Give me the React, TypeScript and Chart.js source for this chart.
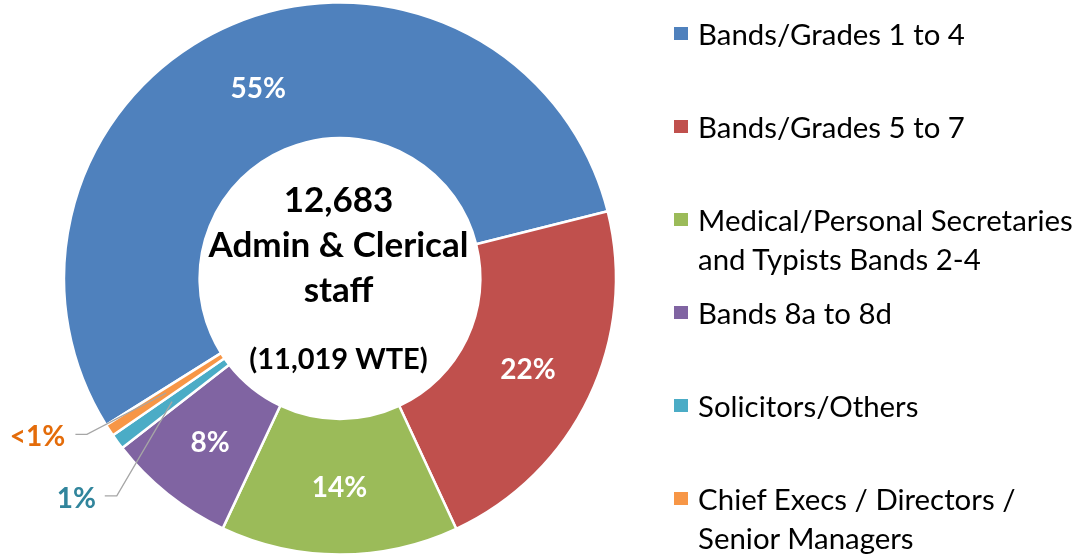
import React, { useEffect, useRef } from "react";
import { Chart, registerables } from "chart.js";

Chart.register(...registerables);

// ---- data ----
const categories: string[][] = [
  ["Bands/Grades 1 to 4"],
  ["Bands/Grades 5 to 7"],
  ["Medical/Personal Secretaries", "and Typists Bands 2-4"],
  ["Bands 8a to 8d"],
  ["Solicitors/Others"],
  ["Chief Execs / Directors /", "Senior Managers"],
];
const shares = [55.0, 22.0, 13.9, 7.5, 0.9, 0.7];
const shareLabels = ["55%", "22%", "14%", "8%", "1%", "<1%"];
const sliceColors = ["#4F81BD", "#C0504D", "#9BBB59", "#8064A2", "#4BACC6", "#F79646"];
const labelColors = ["#FFFFFF", "#FFFFFF", "#FFFFFF", "#FFFFFF", "#31859C", "#E46C0A"];
const centerLines = ["12,683", "Admin & Clerical", "staff", "(11,019 WTE)"];

// ---- style ----
const FONT = "Lato, 'Open Sans', sans-serif";
const centerStyle = [
  { dy: -67, size: 35 },
  { dy: -22, size: 35 },
  { dy: 23, size: 35 },
  { dy: 90, size: 29 },
];
const callouts: Record<number, { label: [number, number]; elbow: [number, number]; end: [number, number] }> = {
  4: { label: [-95.8, 96], elbow: [-55.3, 94.3], end: [-67.3, 94.3] },
  5: { label: [-128.7, 42.7], elbow: [-79.2, 41.4], end: [-90.7, 41.4] },
};

const labelPlugin = {
  id: "sliceLabels",
  afterDraw(chart: any) {
    const ctx = chart.ctx;
    const meta = chart.getDatasetMeta(0);
    const arcs = meta.data;
    if (!arcs.length) return;
    const cx = arcs[0].x;
    const cy = arcs[0].y;
    ctx.save();
    // center text
    ctx.fillStyle = "#000000";
    ctx.textAlign = "center";
    ctx.textBaseline = "alphabetic";
    centerLines.forEach((t, i) => {
      const st = centerStyle[i];
      ctx.font = `bold ${st.size}px ${FONT}`;
      ctx.fillText(t, cx - 1.5, cy + st.dy);
    });
    // slice labels
    arcs.forEach((arc: any, i: number) => {
      const p = arc.tooltipPosition();
      let lx = p.x;
      let ly = p.y;
      const co = callouts[i];
      if (co) {
        ctx.strokeStyle = "#A6A6A6";
        ctx.lineWidth = 1.3;
        ctx.beginPath();
        ctx.moveTo(p.x + co.end[0], p.y + co.end[1]);
        ctx.lineTo(p.x + co.elbow[0], p.y + co.elbow[1]);
        ctx.lineTo(p.x, p.y);
        ctx.stroke();
        lx = p.x + co.label[0];
        ly = p.y + co.label[1];
      }
      ctx.font = `bold 28px ${FONT}`;
      ctx.fillStyle = labelColors[i];
      const m = ctx.measureText(shareLabels[i]);
      const yb = ly + (m.actualBoundingBoxAscent - m.actualBoundingBoxDescent) / 2;
      ctx.textAlign = "center";
      ctx.fillText(shareLabels[i], lx, yb);
    });
    ctx.restore();
  },
};

export default function App() {
  const canvasRef = useRef<HTMLCanvasElement | null>(null);

  useEffect(() => {
    if (!canvasRef.current) return;
    const chart = new Chart(canvasRef.current, {
      type: "doughnut",
      data: {
        labels: categories.map((c) => c.join(" ")),
        datasets: [
          {
            data: shares,
            backgroundColor: sliceColors,
            borderColor: "#FFFFFF",
            borderWidth: 2.5,
            hoverOffset: 0,
          },
        ],
      },
      options: {
        responsive: false,
        animation: false,
        rotation: -122.1,
        radius: 276,
        cutout: 140,
        layout: { padding: { left: 60, right: 463, top: 2, bottom: -7 } },
        plugins: {
          legend: { display: false },
          tooltip: { enabled: false },
        },
      },
      plugins: [labelPlugin],
    });
    return () => chart.destroy();
  }, []);

  return (
    <div style={{ position: "absolute", left: 0, top: 0, width: 1083, height: 555, overflow: "hidden", background: "#fff" }}>
      <canvas ref={canvasRef} width={1083} height={555} style={{ position: "absolute", left: 0, top: 0, width: 1083, height: 555 }} />
      <div style={{ position: "absolute", left: 674, top: 13.5, fontFamily: FONT, fontSize: 29.4, color: "#000" }}>
        {categories.map((lines, i) => (
          <div key={i} style={{ display: "flex", alignItems: "flex-start", height: 93.1 }}>
            <div style={{ width: 13.5, height: 13, marginTop: 13.5, marginRight: 10.6, background: sliceColors[i], flex: "none" }} />
            <div style={{ lineHeight: "39.3px", whiteSpace: "nowrap" }}>
              {lines.map((l, j) => (
                <div key={j}>{l}</div>
              ))}
            </div>
          </div>
        ))}
      </div>
    </div>
  );
}
